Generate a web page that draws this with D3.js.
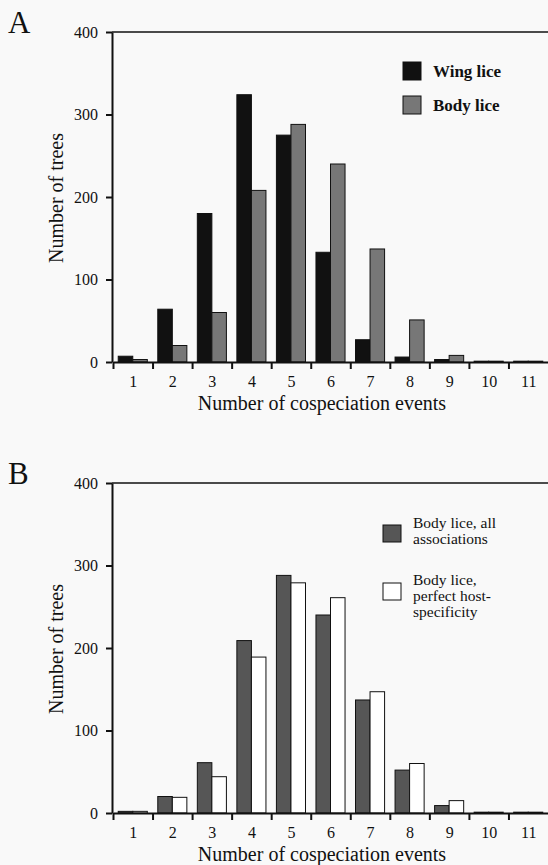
<html>
<head>
<title>Cospeciation events</title>
<script src="https://cdnjs.cloudflare.com/ajax/libs/d3/7.8.5/d3.min.js"></script>
<style>
  body { margin: 0; background: #f9f9f9; }
  svg text { font-family: "Liberation Serif", "DejaVu Serif", serif; fill: #111; }
  .axis path, .axis line { stroke: #111; stroke-width: 2; }
  .axis text { font-size: 16px; font-family: "Liberation Serif", serif; }
</style>
</head>
<body>
<svg id="chart" width="548" height="865"></svg>
<script>
// values
var cats = [1, 2, 3, 4, 5, 6, 7, 8, 9, 10, 11];
var yTicks = [0, 100, 200, 300, 400];
var wingLice = [7, 64, 180, 324, 275, 133, 27, 6, 3, 1, 1];
var bodyLice = [3, 20, 60, 208, 288, 240, 137, 51, 8, 1, 1];
var bodyAll = [2, 20, 61, 209, 288, 240, 137, 52, 9, 1, 1];
var bodyPerfect = [2, 19, 44, 189, 279, 261, 147, 60, 15, 1, 1];

var svg = d3.select("#chart");

function panel(opt) {
  var left = 112, right = 548, top = opt.top, bottom = opt.top + 330;

  var x = d3.scaleBand().domain(cats).range([left + 1, right]);
  var xLin = d3.scaleLinear().domain([0.5, 11.5]).range([left + 1, right]);
  var x1 = d3.scaleBand().domain([0, 1]).range([0, x.bandwidth()]).paddingOuter(0.36);
  var y = d3.scaleLinear().domain([0, 400]).range([bottom, top]);

  var g = svg.append("g");

  // bars
  opt.series.forEach(function(s, si) {
    g.selectAll(null)
      .data(s.values)
      .enter()
      .append("rect")
      .attr("x", function(d, i) { return x(cats[i]) + x1(si); })
      .attr("y", function(d) { return y(d); })
      .attr("width", x1.bandwidth())
      .attr("height", function(d) { return bottom - y(d); })
      .attr("fill", s.color)
      .attr("stroke", "#111")
      .attr("stroke-width", 1);
  });

  // top frame line
  g.append("line")
    .attr("x1", left).attr("x2", right)
    .attr("y1", top).attr("y2", top)
    .attr("stroke", "#111").attr("stroke-width", 1.5);

  // y axis
  g.append("g").attr("class", "axis")
    .attr("transform", "translate(" + left + ",0)")
    .call(d3.axisLeft(y).tickValues(yTicks).tickSize(6).tickPadding(8).tickSizeOuter(0));

  // x axis: ticks on category boundaries
  g.append("g").attr("class", "axis")
    .attr("transform", "translate(0," + bottom + ")")
    .call(d3.axisBottom(xLin).tickValues(d3.range(0.5, 11, 1)).tickFormat("").tickSize(7).tickSizeOuter(0));
  // category labels
  var lab = g.append("g").attr("class", "axis")
    .attr("transform", "translate(0," + bottom + ")")
    .call(d3.axisBottom(xLin).tickValues(cats).tickSize(0).tickPadding(14));
  lab.select(".domain").remove();

  // axis titles
  g.append("text")
    .attr("x", 322).attr("y", bottom + 48)
    .attr("text-anchor", "middle")
    .style("font-size", "20px")
    .text("Number of cospeciation events");
  g.append("text")
    .attr("transform", "translate(63," + (top + 166) + ") rotate(-90)")
    .attr("text-anchor", "middle")
    .style("font-size", "20px")
    .text("Number of trees");

  // panel letter
  g.append("text")
    .attr("x", 8).attr("y", top + 1)
    .style("font-size", "31px")
    .text(opt.letter);

  return g;
}

var gA = panel({
  top: 32, letter: "A",
  series: [{ values: wingLice, color: "#111" }, { values: bodyLice, color: "#777" }]
});
var gB = panel({
  top: 483, letter: "B",
  series: [{ values: bodyAll, color: "#565656" }, { values: bodyPerfect, color: "#fff" }]
});

// legend A
var legA = [{ name: "Wing lice", color: "#111", y: 62 }, { name: "Body lice", color: "#777", y: 96 }];
legA.forEach(function(d) {
  gA.append("rect").attr("x", 403).attr("y", d.y).attr("width", 18).attr("height", 18)
    .attr("fill", d.color).attr("stroke", "#111");
  gA.append("text").attr("x", 433).attr("y", d.y + 15)
    .style("font-size", "17px").style("font-weight", "bold").text(d.name);
});

// legend B
var legB = [
  { lines: ["Body lice, all", "associations"], color: "#565656", y: 525, ty: 528 },
  { lines: ["Body lice,", "perfect host-", "specificity"], color: "#fff", y: 583, ty: 585 }
];
legB.forEach(function(d) {
  gB.append("rect").attr("x", 383).attr("y", d.y).attr("width", 18).attr("height", 17)
    .attr("fill", d.color).attr("stroke", "#111");
  var t = gB.append("text").attr("x", 413).attr("y", d.ty).style("font-size", "15.5px");
  d.lines.forEach(function(l, i) {
    t.append("tspan").attr("x", 413).attr("dy", i ? 16 : 0).text(l);
  });
});
</script>
</body>
</html>
